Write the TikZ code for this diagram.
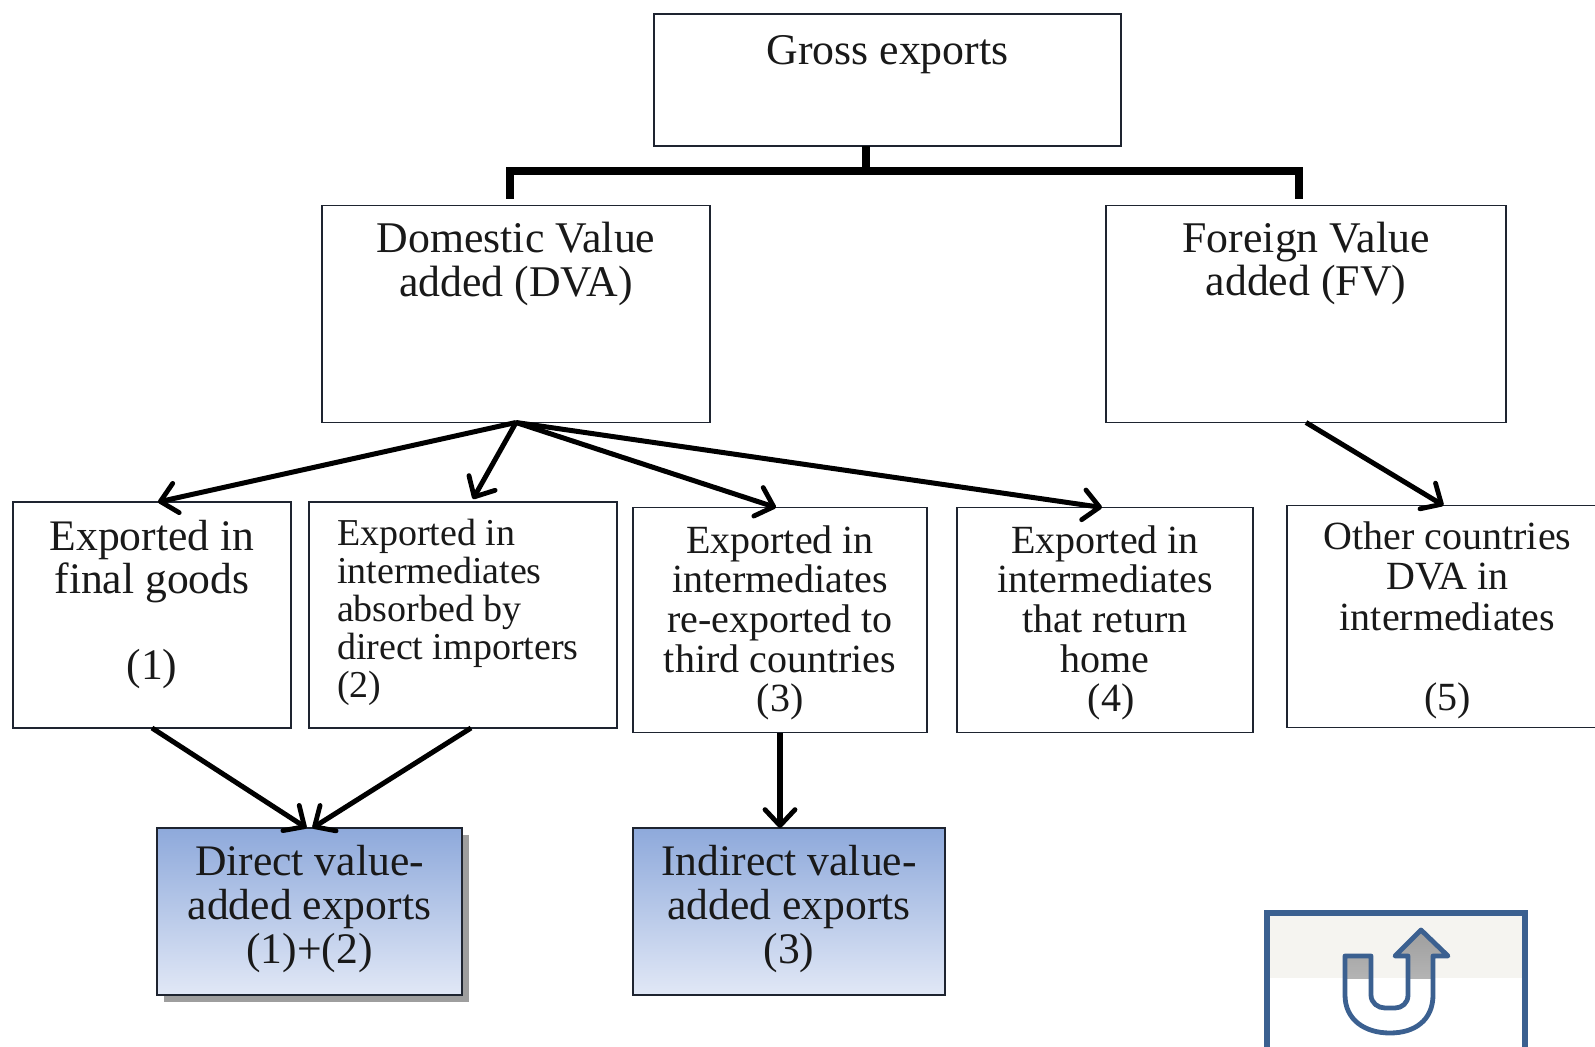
\documentclass[tikz,border=0pt]{standalone}
\usepackage{fontspec}
\usepackage{xcolor}
\setmainfont{Liberation Serif}
\usetikzlibrary{arrows.meta,shadows}

\definecolor{framedark}{HTML}{1E2430}
\definecolor{icontblue}{HTML}{3B6090}
\definecolor{iconband}{HTML}{F5F4F0}
\definecolor{blue1}{HTML}{8EA9DB}
\definecolor{blue2}{HTML}{E1E8F6}

% box text: width, height, space above, font size, line spacing, lines
\newcommand{\boxtext}[6]{%
	\begin{minipage}[t][#2][t]{#1}
		\vspace*{#3}
		\centering\fontsize{#4}{#5}\selectfont #6
	\end{minipage}}

\tikzset{
	box/.style={draw=framedark,line width=0.8pt,inner sep=0pt,outer sep=0pt,text=black!90},
	result/.style={box,top color=blue1,bottom color=blue2},
	bus/.style={line width=3.6pt},
	conn/.style={line width=2.5pt,-{Straight Barb[length=8pt,width=15pt,line width=2.4pt,round]}}
}

\begin{document}
\begin{tikzpicture}[x=0.5pt,y=-0.5pt]
	\useasboundingbox (0,0) rectangle (1595,1047);

	\node[box] (gross) at (887.5,80) {\boxtext{233.5pt}{66pt}{10.6pt}{21.9pt}{21.5pt}{Gross exports}};

	\node[box] (dva) at (516,314) {\boxtext{194pt}{108.5pt}{8.5pt}{21.9pt}{21.8pt}{Domestic Value\\added (DVA)}};
	\node[box] (fv) at (1306,314) {\boxtext{200pt}{108.5pt}{8.5pt}{21.9pt}{21.2pt}{Foreign Value\\added (FV)}};

	\node[box] (final) at (152,615) {\boxtext{139pt}{113pt}{9pt}{21.8pt}{21.6pt}{Exported in\\final goods\\[21.6pt](1)}};
	\node[box] (absorbed) at (463,615) {\boxtext{154pt}{113pt}{8.5pt}{19pt}{19pt}{\raggedright\leftskip=14pt
		Exported in\\intermediates\\absorbed by\\direct importers\\(2)}};
	\node[box] (reexport) at (780,620) {\boxtext{147pt}{112.5pt}{9pt}{20pt}{19.8pt}{Exported in\\intermediates\\re-exported to\\third countries\\(3)}};
	\node[box] (returned) at (1105,620) {\boxtext{148pt}{112.5pt}{9pt}{20pt}{19.8pt}{Exported in\\intermediates\\that return\\home\\\hspace*{6pt}(4)}};
	\node[box] (others) at (1447.5,616.5) {\boxtext{160.5pt}{111pt}{8pt}{20pt}{20.2pt}{Other countries\\DVA in\\intermediates\\[20.2pt](5)}};

	\node[result,drop shadow={shadow xshift=3.5pt,shadow yshift=-3.5pt,fill=black!38,opacity=1}] (direct) at (309.5,911.5) {\boxtext{152.5pt}{83.5pt}{8.6pt}{21.8pt}{21.9pt}{Direct value-\\added exports\\(1)+(2)}};
	\node[result] (indirect) at (789,911.5) {\boxtext{156pt}{83.5pt}{8.6pt}{21.8pt}{21.9pt}{Indirect value-\\added exports\\(3)}};

	% bracket under the top box
	\coordinate (busmid) at (866,171);
	\draw[bus] ([xshift=-10.75pt]gross.south) -- (busmid);
	\draw[bus,line join=miter] (510,199) -- (510,171) -- (1299,171) -- (1299,199);

	\draw[conn] (dva.south) -- ([xshift=3pt]final.north);
	\draw[conn] (dva.south) -- ([xshift=5pt,yshift=1.5pt]absorbed.north);
	\draw[conn] (dva.south) -- ([xshift=-2pt]reexport.north);
	\draw[conn] (dva.south) -- ([xshift=-1.5pt]returned.north);
	\draw[conn] (fv.south) -- ([xshift=-2pt]others.north);
	\draw[conn] (final.south) -- ([xshift=-1.5pt]direct.north);
	\draw[conn] ([xshift=4pt]absorbed.south) -- ([xshift=1.5pt]direct.north);
	\draw[conn,line width=3.4pt] (reexport.south) -- (reexport.south |- indirect.north);

	% return icon
	\fill[iconband] (1267,913) rectangle (1525,978);
	\draw[icontblue,line width=2.7pt] (1267,1060) -- (1267,913) -- (1525,913) -- (1525,1060);
	\draw[icontblue,line width=2.4pt,line join=round,path picture={
			\fill[top color=black!38,bottom color=black!20] (1330,930) rectangle (1460,978);
		}]
		(1421,930) -- (1448,956) -- (1433,956) -- (1433,995)
		.. controls (1433,1020) and (1415,1033) .. (1390,1033)
		.. controls (1365,1033) and (1345,1020) .. (1345,995)
		-- (1345,956) -- (1371,956) -- (1371,995)
		.. controls (1371,1003) and (1378,1008) .. (1385,1008)
		-- (1395,1008)
		.. controls (1402,1008) and (1408,1003) .. (1408,995)
		-- (1408,956) -- (1395,956) -- cycle;
\end{tikzpicture}
\end{document}
